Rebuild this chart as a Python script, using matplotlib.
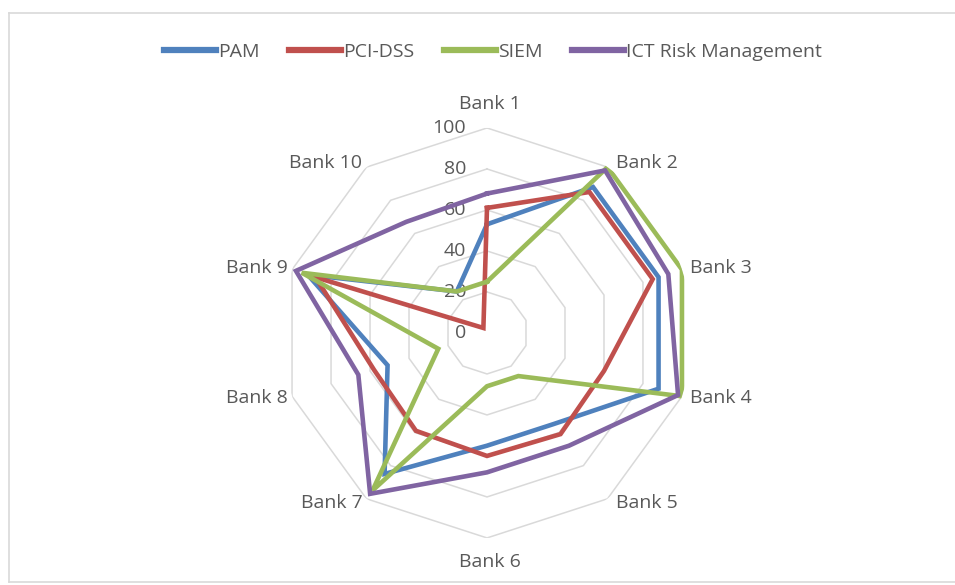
import matplotlib.pyplot as plt
import numpy as np
from matplotlib.lines import Line2D

plt.rcParams['font.family'] = ['Open Sans', 'DejaVu Sans']

# dados
banks = ['Bank 1', 'Bank 2', 'Bank 3', 'Bank 4', 'Bank 5',
         'Bank 6', 'Bank 7', 'Bank 8', 'Bank 9', 'Bank 10']
pam = [53, 88, 88, 88, 55, 55, 85, 51, 92, 25]
pci_dss = [61, 85, 85, 60, 61, 60, 59, 58, 88, 3]
siem = [25, 100, 100, 100, 26, 26, 95, 25, 95, 25]
ict_risk = [68, 98, 93, 98, 68, 68, 97, 66, 98, 67]
series_names = ['PAM', 'PCI-DSS', 'SIEM', 'ICT Risk Management']
grid_levels = [0, 20, 40, 60, 80, 100]

colors = ['#4F81BD', '#C0504D', '#9BBB59', '#8064A2']
txt = '#595959'
fs = 14

n = len(banks)
theta = np.arange(n) * 2 * np.pi / n
theta_c = np.append(theta, theta[0])

fig = plt.figure(figsize=(9.55, 5.85), dpi=100)

# moldura do grafico (so esquerda, topo e base aparecem no recorte)
x0, y0, y1 = 9/955, 3/585, 572/585
for xs, ys in [([x0, x0], [y0, y1]), ([x0, 1], [y1, y1]), ([x0, 1], [y0, y0])]:
    fig.add_artist(Line2D(xs, ys, transform=fig.transFigure, color='#d9d9d9', lw=1.2))

ax = fig.add_axes([0.2953, 0.0804, 0.4293, 0.7009], projection='polar')
ax.set_theta_zero_location('N')
ax.set_theta_direction(-1)
ax.set_ylim(0, 100)
ax.grid(False)
ax.spines['polar'].set_visible(False)
ax.set_xticks([])
ax.set_yticks([])
ax.patch.set_alpha(0)

# grade em decagonos
for g in grid_levels[1:]:
    ax.plot(theta_c, [g] * (n + 1), color='#d9d9d9', lw=1.1, zorder=1)

# series
for vals, name, c in zip([pam, pci_dss, siem, ict_risk], series_names, colors):
    v = np.append(vals, vals[0])
    ax.plot(theta_c, v, color=c, lw=3.3, label=name, zorder=3,
            solid_joinstyle='miter')

# rotulos radiais
for g in grid_levels:
    ax.annotate(str(g), xy=(0, g), xytext=(-15, 0), textcoords='offset points',
                ha='right', va='center', fontsize=fs, color=txt, zorder=2)

# rotulos das categorias
for t, b in zip(theta, banks):
    dx, dy = np.sin(t), np.cos(t)
    if abs(dx) < 0.1:
        ax.annotate(b, xy=(t, 100), xytext=(2, 17 * np.sign(dy)),
                    textcoords='offset points', ha='center', va='center',
                    fontsize=fs, color=txt)
    else:
        ha = 'left' if dx > 0 else 'right'
        ox = 6 if dx > 0 else -3
        ax.annotate(b, xy=(t, 100), xytext=(ox, dy * 4),
                    textcoords='offset points', ha=ha, va='center',
                    fontsize=fs, color=txt)

leg = fig.legend(loc='center', bbox_to_anchor=(493/955, 1 - 52/585), ncol=4,
                 frameon=False, handlelength=2.7, handletextpad=0.1,
                 columnspacing=1.5, prop={'size': fs}, labelcolor=txt)
for h in leg.get_lines():
    h.set_linewidth(4.5)

fig.savefig('out.png', dpi=100)
